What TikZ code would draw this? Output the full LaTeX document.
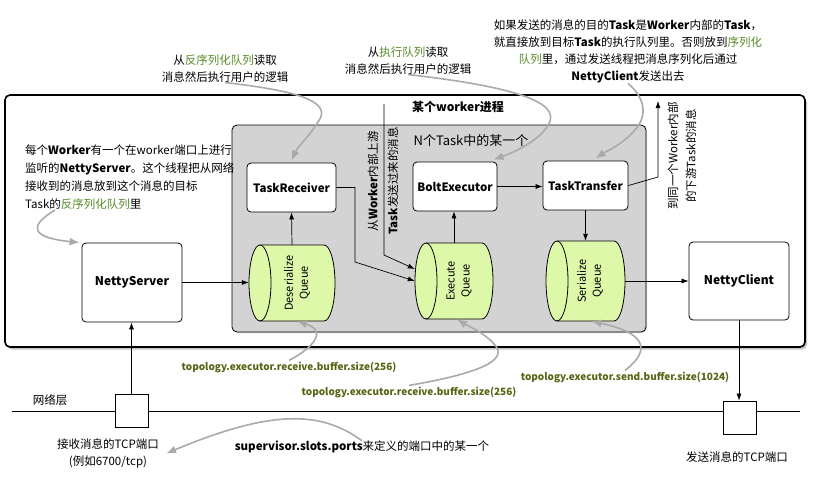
\documentclass[tikz,border=0pt]{standalone}
\usepackage{fontspec}
\setmainfont{Noto Sans CJK SC}
\usetikzlibrary{arrows.meta,shadows,calc}
\definecolor{gtext}{RGB}{88,140,40}
\definecolor{ptext}{RGB}{88,100,20}
\definecolor{cylfill}{RGB}{222,248,170}
\definecolor{innerfill}{RGB}{211,211,211}
\definecolor{curvecol}{RGB}{170,170,170}
\newcommand{\cylshape}[4]{%
  \filldraw[fill=cylfill, draw=black, line width=0.8pt] (#1+11,#2) -- (#3-11,#2)
    arc[start angle=90,end angle=-90,x radius=11pt,y radius={(#4-#2)/2*1pt}]
    -- (#1+11,#4)
    arc[start angle=270,end angle=90,x radius=11pt,y radius={(#4-#2)/2*1pt}] -- cycle;
  \draw[line width=0.8pt] (#1+11,#2) arc[start angle=90,end angle=-90,x radius=11pt,y radius={(#4-#2)/2*1pt}];
}
\begin{document}
\begin{tikzpicture}[x=1pt,y=-1pt,
  box/.style={draw, rounded corners=4pt, fill=white, line width=0.8pt, font=\bfseries\fontsize{11.5}{14}\selectfont, inner sep=0pt},
  tcp/.style={draw, fill=white, minimum size=33pt, inner sep=0pt, line width=0.8pt},
  arr/.style={-{Latex[length=7pt,width=5pt]}, line width=0.7pt},
  garr/.style={-{Latex[length=10pt,width=8pt]}, draw=curvecol, line width=1.6pt},
  txt/.style={font=\fontsize{11.5}{17}\selectfont, inner sep=0pt, align=center},
  param/.style={font=\bfseries\fontsize{10}{12}\selectfont, text=ptext, inner sep=1pt},
  cylnode/.style={inner sep=0pt},
  cyltext/.style={rotate=90, align=center, inner sep=0pt, font=\fontsize{11}{15}\selectfont}]
\fill[white] (0,0) rectangle (813,491);
\useasboundingbox (0,0) rectangle (813,491);

% worker process
\node[draw, line width=1.6pt, rounded corners=5pt, fill=white,
  drop shadow={shadow xshift=2pt, shadow yshift=-2.5pt, opacity=0.45},
  minimum width=800pt, minimum height=252pt] (wk) at (405,221) {};
\node[font=\bfseries\fontsize{12}{14}\selectfont, inner sep=0pt] (wt) at (458,107) {某个worker进程};

% task area
\node[draw, line width=0.8pt, rounded corners=5pt, fill=innerfill,
  drop shadow={shadow xshift=1pt, shadow yshift=-1pt, opacity=0.3},
  minimum width=414pt, minimum height=207pt] (tk) at (439,228.5) {};
\node[font=\fontsize{13}{15}\selectfont, inner sep=0pt] (tkt) at (471,141) {N个Task中的某一个};

% boxes
\node[box, minimum width=89pt, minimum height=49pt] (tr) at (291.5,187.5) {TaskReceiver};
\node[box, minimum width=84pt, minimum height=49pt] (be) at (455,186.5) {BoltExecutor};
\node[box, minimum width=85pt, minimum height=49pt] (tt) at (585.5,185.5) {TaskTransfer};
\node[box, minimum width=100pt, minimum height=79pt, font=\bfseries\fontsize{12}{14}\selectfont] (ns) at (132,282.5) {NettyServer};
\node[box, minimum width=100pt, minimum height=78pt, font=\bfseries\fontsize{12}{14}\selectfont] (nc) at (739,281) {NettyClient};

% queues
\cylshape{249}{245}{335}{321}
\node[cylnode, minimum width=86pt, minimum height=76pt] (dq) at (292,283) {};
\node[cyltext] (dqt) at (297,283) {Deserialize\\Queue};
\cylshape{415}{243}{493}{319}
\node[cylnode, minimum width=78pt, minimum height=76pt] (eq) at (454,281) {};
\node[cyltext] (eqt) at (459,281) {Execute\\Queue};
\cylshape{546}{241}{625}{321}
\node[cylnode, minimum width=79pt, minimum height=80pt] (sq) at (585.5,281) {};
\node[cyltext] (sqt) at (590,281) {Serialize\\Queue};

% network
\node[tcp] (tcp1) at (131.5,411) {};
\node[tcp] (tcp2) at (740,417.5) {};
\coordinate (net0) at (12,411);
\coordinate (net1) at (800,411);
\draw[line width=0.7pt] (net0) -- (tcp1.west);
\draw[line width=0.7pt] (tcp1.east) -- (tcp1.east -| tcp2.west);
\draw[line width=0.7pt] (tcp2.east |- tcp1.east) -- (net1);
\node[txt] (net) at (50,400) {网络层};

% black connectors
\draw[arr] (ns.east) -- (ns.east -| dq.west);
\draw[arr] (dq.north) -- (tr.south);
\draw[arr] (tr.east) -| (355,262) -- (eq.west);
\coordinate (us) at (384,104);
\draw[arr] (us) -- (384,255) -- ([yshift=12pt]eq.west);
\draw[arr] (eq.north) -- (eq.north |- be.south);
\draw[arr] (be.east) -- (be.east -| tt.west);
\draw[arr] (tt.south) -- (sq.north);
\coordinate (ds) at (658,101);
\draw[arr] (tt.east) -- (658,177) -- (ds);
\draw[arr] (sq.east) -- (sq.east -| nc.west);
\draw[arr] (nc.south) -- (nc.south |- tcp2.north);
\draw[arr] (tcp1.north) -- (tcp1.north |- ns.south);

% rotated labels
\node[rotate=90, txt, font=\fontsize{11.5}{20}\selectfont] (upl) at (383,181) {从\textbf{Worker}内部上游\\\textbf{Task}发送过来的消息};
\node[rotate=90, txt, font=\fontsize{11.5}{18}\selectfont] (dsl) at (682,156) {到同一个Worker内部\\的下游Task的消息};

% texts
\node[txt] (l1) at (225,68.5) {从\textcolor{gtext}{反序列化队列}读取\\消息然后执行用户的逻辑};
\node[txt] (l2) at (408,60.5) {从\textcolor{gtext}{执行队列}读取\\消息然后执行用户的逻辑};
\node[txt] (l3) at (628,51.5) {如果发送的消息的目的\textbf{Task}是\textbf{Worker}内部的\textbf{Task}，\\就直接放到目标\textbf{Task}的执行队列里。否则放到\textcolor{gtext}{序列化}\\\textcolor{gtext}{队列}里，通过发送线程把消息序列化后通过\\\textbf{NettyClient}发送出去};
\node[txt, align=left, anchor=north west, font=\fontsize{11.5}{18}\selectfont] (lt) at (25,145) {每个\textbf{Worker}有一个在worker端口上进行\\监听的\textbf{NettyServer}。这个线程把从网络\\接收到的消息放到这个消息的目标\\Task的\textcolor{gtext}{反序列化队列}里};

\node[param] (p1) at (289,367) {topology.executor.receive.buffer.size(256)};
\node[param] (p2) at (409,392) {topology.executor.receive.buffer.size(256)};
\node[param] (p3) at (625,377) {topology.executor.send.buffer.size(1024)};

\node[txt] (rl) at (108,453.5) {接收消息的TCP端口\\(例如6700/tcp)};
\node[txt] (sl) at (737,457) {发送消息的TCP端口};
\node[txt] (sv) at (362,447) {\textbf{supervisor.slots.ports}来定义的端口中的某一个};

% gray curved connectors
\draw[garr] (l1.south) .. controls (290,90) and (335,100) .. (318,122) .. controls (308,138) and (298,146) .. ([yshift=2pt]tr.north);
\draw[garr] (l2.south) .. controls (500,85) and (565,100) .. (548,125) .. controls (540,140) and (515,152) .. ([xshift=-4pt,yshift=2pt]be.north east);
\draw[garr] (l3.south) .. controls (645,98) and (648,115) .. (635,130) .. controls (622,145) and (605,152) .. ([xshift=10pt,yshift=2pt]tt.north);
\draw[garr] ([xshift=30pt]lt.south west) .. controls (25,228) and (35,238) .. ([xshift=-2pt]ns.north west);
\draw[garr] (p1.north) .. controls (318,345) and (325,330) .. ([xshift=5pt]dq.south);
\draw[garr] (p2.north) .. controls (470,375) and (510,362) .. (495,345) .. controls (485,333) and (468,326) .. ([xshift=3pt]eq.south);
\draw[garr] (p3.north) .. controls (645,355) and (655,335) .. ([xshift=6pt]sq.south);
\draw[garr] (sv.north) .. controls (320,410) and (270,410) .. ([xshift=7pt]rl.east);
\end{tikzpicture}
\end{document}
